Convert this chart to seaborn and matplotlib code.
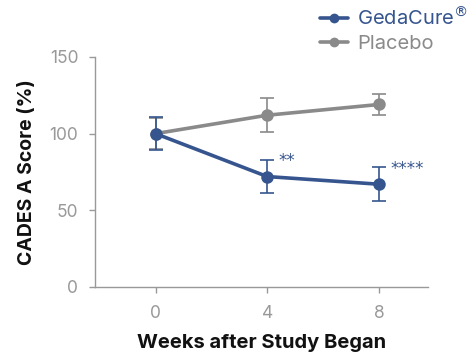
import matplotlib
matplotlib.use("Agg")
import matplotlib.pyplot as plt
import seaborn as sns
import pandas as pd
from matplotlib.lines import Line2D

weeks = [0, 4, 8]
gedacure_mean = [100, 72, 67]
gedacure_err = [11, 11, 11]
placebo_mean = [100, 112, 119]
placebo_err = [10, 11, 7]
significance = ["", "**", "****"]

BLUE = "#36558f"
GRAY = "#8a8a8a"
TICK = "#999999"

sns.set_theme(style="white")
plt.rcParams["font.family"] = ["Inter", "DejaVu Sans"]

df = pd.DataFrame({
    "week": weeks * 2,
    "score": placebo_mean + gedacure_mean,
    "group": ["Placebo"] * 3 + ["GedaCure"] * 3,
})

fig = plt.figure(figsize=(4.7, 3.56), dpi=100)
ax = fig.add_axes([0.202, 0.194, 0.708, 0.646])

sns.lineplot(data=df, x="week", y="score", hue="group",
             palette={"GedaCure": BLUE, "Placebo": GRAY},
             hue_order=["Placebo", "GedaCure"],
             marker="o", markersize=9, markeredgewidth=0,
             linewidth=2.6, legend=False, ax=ax, zorder=3)

ax.errorbar(weeks, placebo_mean, yerr=placebo_err, fmt="none",
            ecolor=GRAY, elinewidth=1.2, capsize=5, capthick=1.2, zorder=2)
ax.errorbar(weeks, gedacure_mean, yerr=gedacure_err, fmt="none",
            ecolor=BLUE, elinewidth=1.2, capsize=5, capthick=1.2, zorder=4)

for w, m, e, s in zip(weeks, gedacure_mean, gedacure_err, significance):
    if s:
        ax.annotate(s, xy=(w, m + e), xytext=(8, -1), textcoords="offset points",
                    color=BLUE, fontsize=12, ha="left", va="center",
                    family="DejaVu Sans")

ax.set_xlim(-2.17, 9.75)
ax.set_ylim(0, 150)
ax.set_xticks(weeks)
ax.set_yticks([0, 50, 100, 150])
ax.tick_params(axis="both", colors=TICK, labelsize=12.5, length=4, width=1,
               direction="out", bottom=True, left=True, pad=8)
ax.tick_params(axis="x", pad=9)
sns.despine(ax=ax)
for side in ("left", "bottom"):
    ax.spines[side].set_color("#999999")
    ax.spines[side].set_linewidth(1)

ax.set_xlabel("Weeks after Study Began", fontsize=14.5, fontweight="bold",
              color="#111111", labelpad=9)
ax.set_ylabel("CADES A Score (%)", fontsize=14, fontweight="bold",
              color="#111111", labelpad=10)

handles = [
    Line2D([], [], color=BLUE, lw=2.6, marker="o", markersize=6),
    Line2D([], [], color=GRAY, lw=2.6, marker="o", markersize=6),
]
leg = fig.legend(handles, ["GedaCure$^{®}$", "Placebo"], loc="upper left",
                 bbox_to_anchor=(0.665, 1.0), frameon=False, fontsize=14.5,
                 handlelength=1.4, handletextpad=0.45, labelspacing=0.28,
                 borderaxespad=0.15, borderpad=0.2)
leg.get_texts()[0].set_color(BLUE)
leg.get_texts()[1].set_color(GRAY)

fig.savefig("out.png", dpi=100)
